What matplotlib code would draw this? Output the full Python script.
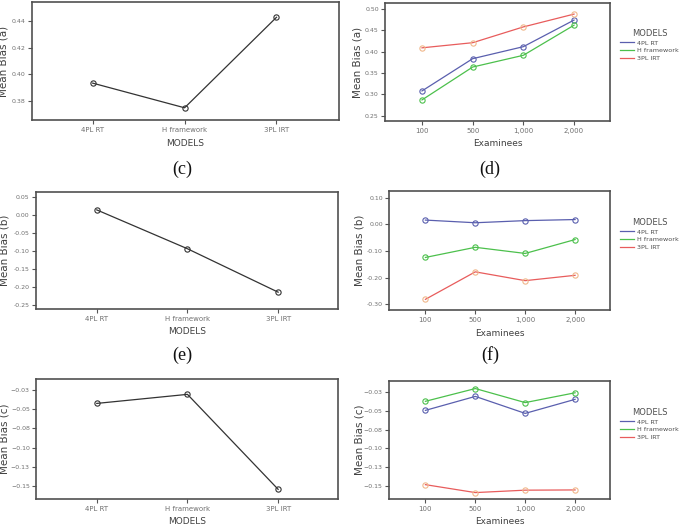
import numpy as np
import matplotlib
matplotlib.use("Agg")
import matplotlib.pyplot as plt
from matplotlib.lines import Line2D
from matplotlib.ticker import FixedLocator, FixedFormatter

# data
models = ["4PL RT", "H framework", "3PL IRT"]
examinees = ["100", "500", "1,000", "2,000"]

bias_a_models = [0.3935, 0.3751, 0.4426]
bias_b_models = [0.015, -0.0936, -0.215]
bias_c_models = [-0.0425, -0.0307, -0.1544]

bias_a_4pl = [0.308, 0.3836, 0.4117, 0.474]
bias_a_h = [0.287, 0.364, 0.3915, 0.462]
bias_a_3pl = [0.409, 0.421, 0.458, 0.488]

bias_b_4pl = [0.016, 0.006, 0.014, 0.018]
bias_b_h = [-0.124, -0.086, -0.109, -0.057]
bias_b_3pl = [-0.281, -0.178, -0.211, -0.191]

bias_c_4pl = [-0.0496, -0.0311, -0.0536, -0.035]
bias_c_h = [-0.0376, -0.0207, -0.0393, -0.0263]
bias_c_3pl = [-0.148, -0.1585, -0.1553, -0.155]

W, H = 680, 528
fig = plt.figure(figsize=(W / 100, H / 100), dpi=100)

TICKC = "#707070"
LABC = "#404040"
FRAME = "#505050"
c4 = "#5a5fae"
ch = "#4cc04c"
c3 = "#e85c5c"
c3m = "#f0b88c"


def mkax(l, r, t, b):
    return fig.add_axes([l / W, 1 - b / H, (r - l) / W, (b - t) / H])


def style(ax, yticks, ylabels, ylim, xlim, xlabels, xname, yname, ylab_x):
    ax.set_xlim(*xlim)
    ax.set_ylim(*ylim)
    ax.yaxis.set_major_locator(FixedLocator(yticks))
    ax.yaxis.set_major_formatter(FixedFormatter(ylabels))
    ax.set_xticks(range(len(xlabels)))
    ax.set_xticklabels(xlabels)
    ax.tick_params(axis="x", labelsize=5, colors=TICKC, length=3,
                   width=0.8, pad=2)
    ax.tick_params(axis="y", labelsize=4.5, colors=TICKC, length=3,
                   width=0.8, pad=1.5)
    ax.tick_params(axis="both", color="#555555")
    for s in ax.spines.values():
        s.set_color(FRAME)
        s.set_linewidth(1.2)
    ax.set_xlabel(xname, fontsize=6.5, color=LABC, labelpad=4)
    ax.set_ylabel(yname, fontsize=7.5, color=LABC)
    # place the y label centre at a given pixel column
    l = ax.get_position().x0 * W
    w = ax.get_position().width * W
    ax.yaxis.set_label_coords((ylab_x - l) / w, 0.5)


def legend(ax, x, y):
    handles = [Line2D([], [], color=c4, lw=0.9),
               Line2D([], [], color=ch, lw=0.9),
               Line2D([], [], color=c3, lw=0.9)]
    lg = ax.legend(handles, ["4PL RT", "H framework", "3PL IRT"],
                   loc="upper left", bbox_to_anchor=(x / W, 1 - y / H),
                   bbox_transform=fig.transFigure, frameon=False,
                   title="MODELS", fontsize=4.6, title_fontsize=6,
                   handlelength=2.2, handletextpad=0.5, labelspacing=0.35,
                   borderaxespad=0, borderpad=0)
    lg.get_title().set_color("#505050")
    for t in lg.get_texts():
        t.set_color("#505050")


mk = dict(marker="o", markersize=3.8, markerfacecolor="none",
          markeredgewidth=0.8, linewidth=0.9)

# (c) mean bias a by model
ax = mkax(32, 339, 2, 120)
ax.plot(range(3), bias_a_models, color="#333333", markeredgecolor="#333333", **mk)
style(ax, [0.38, 0.40, 0.42, 0.44], ["0.38", "0.40", "0.42", "0.44"],
      (0.366, 0.454), (-0.66, 2.68), models, "MODELS", "Mean Bias (a)", 9)

# (d) mean bias a by examinees
ax = mkax(385, 610, 3, 121)
ax.plot(range(4), bias_a_4pl, color=c4, markeredgecolor=c4, **mk)
ax.plot(range(4), bias_a_h, color=ch, markeredgecolor=ch, **mk)
ax.plot(range(4), bias_a_3pl, color=c3, markeredgecolor=c3m, **mk)
yt = [0.25, 0.30, 0.35, 0.40, 0.45, 0.50]
style(ax, yt, ["%.2f" % v for v in yt], (0.2376, 0.514), (-0.73, 3.71),
      examinees, "Examinees", "Mean Bias (a)", 362)
legend(ax, 620, 29)

# (e) mean bias b by model
ax = mkax(36, 338, 192, 309)
ax.plot(range(3), bias_b_models, color="#333333", markeredgecolor="#333333", **mk)
yt = [-0.25, -0.20, -0.15, -0.10, -0.05, 0.00, 0.05]
style(ax, yt, ["%.2f" % v for v in yt], (-0.262, 0.065), (-0.67, 2.66),
      models, "MODELS", "Mean Bias (b)", 9)

# (f) mean bias b by examinees
ax = mkax(389, 610, 191, 310)
ax.plot(range(4), bias_b_4pl, color=c4, markeredgecolor=c4, **mk)
ax.plot(range(4), bias_b_h, color=ch, markeredgecolor=ch, **mk)
ax.plot(range(4), bias_b_3pl, color=c3, markeredgecolor=c3m, **mk)
yt = [-0.30, -0.20, -0.10, 0.00, 0.10]
style(ax, yt, ["%.2f" % v for v in yt], (-0.321, 0.125), (-0.73, 3.7),
      examinees, "Examinees", "Mean Bias (b)", 364)
legend(ax, 620, 218)

# (g) mean bias c by model
ax = mkax(36, 338, 379, 499)
ax.plot(range(3), bias_c_models, color="#333333", markeredgecolor="#333333", **mk)
yt = [-0.15, -0.125, -0.10, -0.075, -0.05, -0.025]
yl = ["\u22120.15", "\u22120.13", "\u22120.10", "\u22120.08", "\u22120.05", "\u22120.03"]
style(ax, yt, yl, (-0.167, -0.0107), (-0.67, 2.66),
      models, "MODELS", "Mean Bias (c)", 9)

# (h) mean bias c by examinees
ax = mkax(389, 610, 381, 499)
ax.plot(range(4), bias_c_4pl, color=c4, markeredgecolor=c4, **mk)
ax.plot(range(4), bias_c_h, color=ch, markeredgecolor=ch, **mk)
ax.plot(range(4), bias_c_3pl, color=c3, markeredgecolor=c3m, **mk)
style(ax, yt, yl, (-0.167, -0.0107), (-0.73, 3.7),
      examinees, "Examinees", "Mean Bias (c)", 364)
legend(ax, 620, 408)

# panel captions
for x, y, s in [(182, 169, "(c)"), (490, 169, "(d)"),
                (182, 355, "(e)"), (490, 355, "(f)")]:
    fig.text(x / W, 1 - y / H, s, ha="center", va="center",
             fontsize=13, family="Liberation Serif", color="#111111")

fig.savefig("out.png", dpi=100)
